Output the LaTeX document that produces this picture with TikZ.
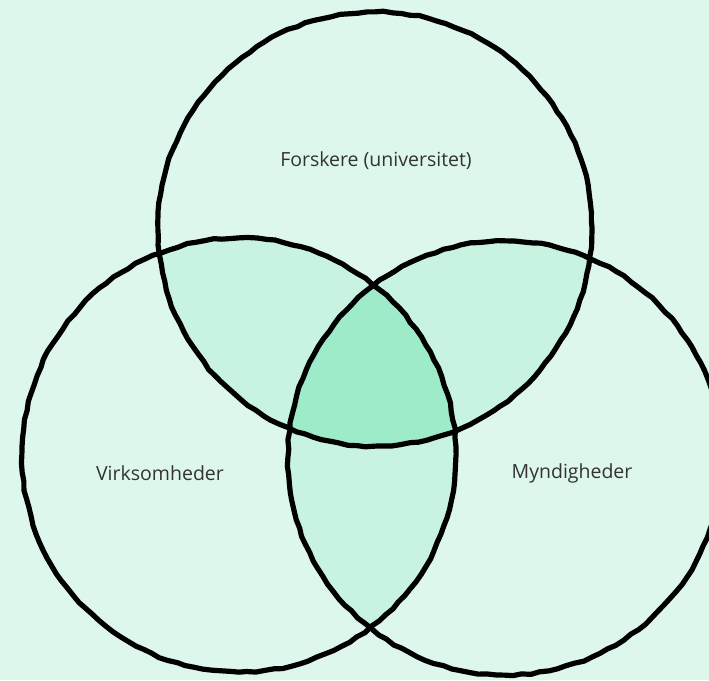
\documentclass[tikz,border=0pt]{standalone}
\usepackage{fontspec}
\setmainfont{Open Sans}
\usetikzlibrary{positioning, decorations.pathmorphing}
\definecolor{BgColor}{HTML}{DEF7EC}
\definecolor{PairColor}{HTML}{C8F3E0}
\definecolor{CoreColor}{HTML}{9DEBC9}
\definecolor{TextColor}{HTML}{333333}
\tikzset{
  ring/.style={draw=black, line width=5.2pt,
    decorate, decoration={random steps, segment length=9pt, amplitude=0.8pt}},
  setlabel/.style={font=\fontsize{19.5}{23}\selectfont, text=TextColor}
}

\begin{document}
\begin{tikzpicture}[x=1pt, y=-1pt]
  \def\r{217}
  % Canvas
  \fill[BgColor] (0,0) rectangle (709,680);
  \useasboundingbox (0,0) rectangle (709,680);
  % Circle centres
  \coordinate (top) at (375,229);
  \coordinate (left) at (239,455);
  \coordinate (right) at (505,458);
  % Pairwise overlaps
  \begin{scope}
    \clip (top) circle[radius=\r];
    \fill[PairColor] (left) circle[radius=\r];
    \fill[PairColor] (right) circle[radius=\r];
  \end{scope}
  \begin{scope}
    \clip (left) circle[radius=\r];
    \fill[PairColor] (right) circle[radius=\r];
  \end{scope}
  % Triple overlap
  \begin{scope}
    \clip (top) circle[radius=\r];
    \clip (left) circle[radius=\r];
    \fill[CoreColor] (right) circle[radius=\r];
  \end{scope}
  % Outlines
  \foreach \c in {top,left,right} {\draw[ring] (\c) circle[radius=\r];}
  % Labels
  \node[setlabel] (researchers) at (376,161) {Forskere (universitet)};
  \node[setlabel] (companies) at (160,473) {Virksomheder};
  \node[setlabel] (authorities) at (572,473) {Myndigheder};
\end{tikzpicture}
\end{document}
